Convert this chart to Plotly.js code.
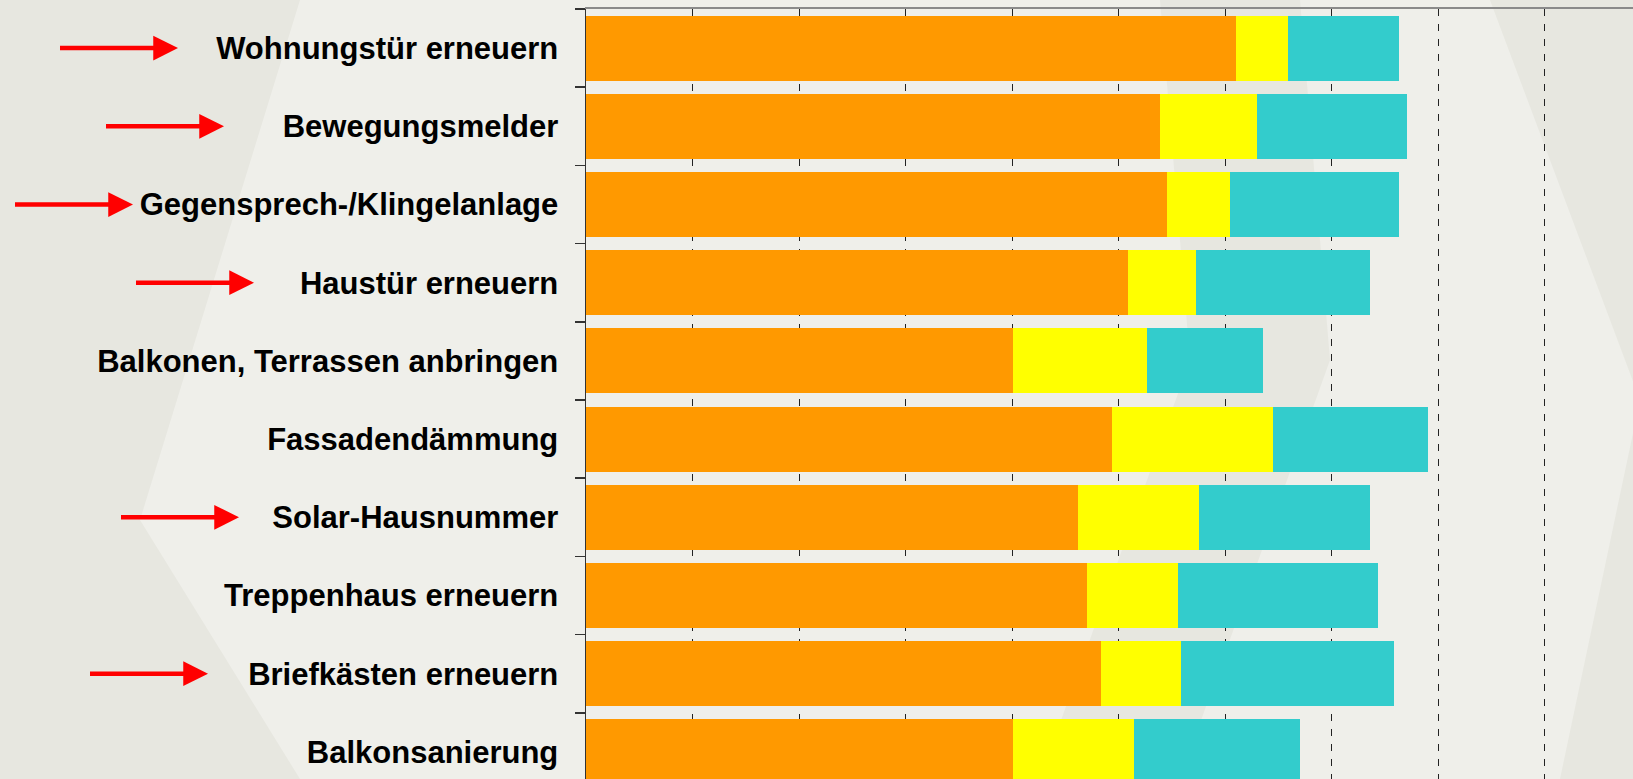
<!DOCTYPE html>
<html>
<head>
<meta charset="utf-8">
<script src="https://cdn.plot.ly/plotly-3.0.1.min.js"></script>
<style>
  html, body { margin: 0; padding: 0; overflow: hidden; background: #efefea; }
  #chart { width: 1680px; height: 800px; }
</style>
</head>
<body>
<div id="chart"></div>
<script>
// categories, top to bottom
const massnahmen = [
  "Wohnungstür erneuern",
  "Bewegungsmelder",
  "Gegensprech-/Klingelanlage",
  "Haustür erneuern",
  "Balkonen, Terrassen anbringen",
  "Fassadendämmung",
  "Solar-Hausnummer",
  "Treppenhaus erneuern",
  "Briefkästen erneuern",
  "Balkonsanierung"
];

// stacked shares in percent
const anteilOrange = [61.0, 53.9, 54.6, 50.9, 40.1, 49.4, 46.2, 47.0, 48.4, 40.1];
const anteilGelb = [4.9, 9.1, 5.9, 6.4, 12.6, 15.1, 11.4, 8.6, 7.5, 11.4];
const anteilTuerkis = [10.4, 14.1, 15.8, 16.3, 10.9, 14.6, 16.0, 18.8, 20.0, 15.5];

// rows marked with a red arrow, and where each arrow tip sits (page px)
const markiert = [
  "Wohnungstür erneuern",
  "Bewegungsmelder",
  "Gegensprech-/Klingelanlage",
  "Haustür erneuern",
  "Solar-Hausnummer",
  "Briefkästen erneuern"
];
const pfeilSpitzeX = [178, 224, 133, 254, 239, 208];

// plot box in page pixels
const W = 1680, H = 800;
const L = 586, R = 1651, T = 9, B = 791;

// page px -> paper coords
const px = (x) => (x - L) / (R - L);
const py = (y) => 1 - (y - T) / (B - T);

function poly(points, color) {
  let d = points.map((p, i) => (i ? "L" : "M") + px(p[0]) + "," + py(p[1])).join(" ") + " Z";
  return {
    type: "path", xref: "paper", yref: "paper", path: d,
    fillcolor: color, line: { width: 0 }, layer: "below"
  };
}

// faint chevrons of the slide background
const dunkel = "#e7e7e0";
const shapes = [
  poly([[0, 0], [300, 0], [140, 520], [300, 779], [0, 779]], dunkel),
  poly([[1160, 0], [1300, 0], [1330, 360], [1180, 779], [1040, 779], [1190, 360]], dunkel),
  poly([[1490, 0], [1700, 0], [1700, 779], [1560, 779], [1640, 400]], dunkel)
];

const annotations = markiert.map((name, i) => ({
  xref: "paper", yref: "y",
  x: px(pfeilSpitzeX[i]), y: name,
  text: " ",
  showarrow: true,
  arrowhead: 2, arrowsize: 1.1, arrowwidth: 4.5,
  arrowcolor: "#ff0000",
  ax: -121, ay: 0
}));

const traces = [
  { y: massnahmen, x: anteilOrange, marker: { color: "#ff9900" } },
  { y: massnahmen, x: anteilGelb, marker: { color: "#ffff00" } },
  { y: massnahmen, x: anteilTuerkis, marker: { color: "#33cccc" } }
].map((t) => Object.assign(t, {
  type: "bar", orientation: "h", hoverinfo: "skip"
}));

const layout = {
  width: W,
  height: H,
  margin: { l: L, r: W - R, t: T, b: H - B, pad: 0 },
  paper_bgcolor: "#efefea",
  plot_bgcolor: "rgba(0,0,0,0)",
  barmode: "stack",
  bargap: 0.17,
  showlegend: false,
  xaxis: {
    range: [0, 100],
    side: "top",
    dtick: 10,
    showticklabels: false,
    ticks: "",
    zeroline: false,
    showline: true,
    linecolor: "#8a8a8a",
    linewidth: 2,
    showgrid: true,
    gridcolor: "#222",
    gridwidth: 1,
    griddash: "7px,8px",
    fixedrange: true
  },
  yaxis: {
    type: "category",
    categoryorder: "array",
    categoryarray: massnahmen,
    autorange: "reversed",
    showline: true,
    linecolor: "#333",
    linewidth: 1.5,
    ticks: "outside",
    tickson: "boundaries",
    ticklen: 10,
    tickwidth: 1.5,
    tickcolor: "#333",
    ticklabelstandoff: 20,
    showgrid: false,
    zeroline: false,
    tickfont: { family: "Liberation Sans, Arial, sans-serif", size: 31, color: "#000", weight: "bold" },
    fixedrange: true
  },
  shapes: shapes,
  annotations: annotations
};

Plotly.newPlot("chart", traces, layout, { staticPlot: true, displayModeBar: false });
</script>
</body>
</html>
